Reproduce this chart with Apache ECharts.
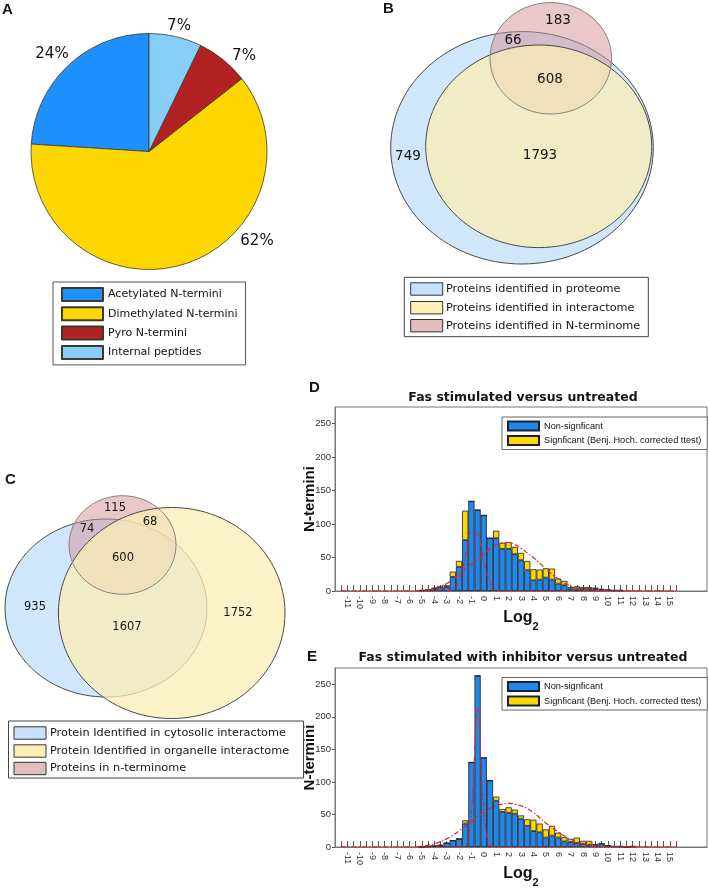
<!DOCTYPE html>
<html><head><meta charset="utf-8">
<script src="https://cdn.jsdelivr.net/npm/echarts@6/dist/echarts.min.js"></script>
<style>html,body{margin:0;padding:0;background:#fff}#c{width:709px;height:889px}</style>
</head><body><div id="c"></div>
<script>
// ---------- Panel A: pie ----------
const pieNames = ['Acetylated N-termini','Dimethylated N-termini','Pyro N-termini','Internal peptides'];
const pieValues = [24.0, 61.6, 7.2, 7.2];
const pieColors = ['#1E90FF','#FFD700','#B22222','#87CEFA'];

// ---------- Panel B: Venn ----------
const vennBNames = ['Proteins identified in proteome','Proteins identified in interactome','Proteins identified in N-terminome'];
// regions: proteome only, proteome∩interactome, all three, proteome∩N-term, N-term only
const vennBCounts = [749, 1793, 608, 66, 183];

// ---------- Panel C: Venn ----------
const vennCNames = ['Protein Identified in cytosolic interactome','Protein Identified in organelle interactome','Proteins in n-terminome'];
// regions: cyto only, cyto∩organelle, organelle only, all three, cyto∩nterm, organelle∩nterm, nterm only
const vennCCounts = [935, 1607, 1752, 600, 74, 68, 115];

// ---------- Panels D/E: histograms ----------
const binCats = [-12,-11.5,-11,-10.5,-10,-9.5,-9,-8.5,-8,-7.5,-7,-6.5,-6,-5.5,-5,-4.5,-4,-3.5,-3,-2.5,-2,-1.5,-1,-0.5,0,0.5,1,1.5,2,2.5,3,3.5,4,4.5,5,5.5,6,6.5,7,7.5,8,8.5,9,9.5,10,10.5,11,11.5,12,12.5,13,13.5,14,14.5,15,15.5,16,16.5,17,17.5,18];
const xTickLabels = [-11,-10,-9,-8,-7,-6,-5,-4,-3,-2,-1,0,1,2,3,4,5,6,7,8,9,10,11,12,13,14,15];
const yTicks = [0,50,100,150,200,250];
const histNames = ['Non-signficant','Signficant (Benj. Hoch. corrected ttest)'];

const dBins   = [-5,-4.5,-4,-3.5,-3,-2.5,-2,-1.5,-1,-0.5,0,0.5,1,1.5,2,2.5,3,3.5,4,4.5,5,5.5,6,6.5,7,7.5,8,8.5,9,9.5,10,10.5,11];
const dNonSig = [1,1.5,3,5,6,21,36,76,134,121,113,79,79,63,63,55,46,31,16,17,20,17,11,8.5,3.5,2.5,3,3,3,2,1.5,1,1];
const dSig    = [0,0.5,2,2.5,2.5,8,9,44,0,0,0,0,11,9,10,11,11,14,16.5,15,14,16.5,7.5,6.5,2.5,4.5,3,3,2,1,0.5,0,0];
const dFitNarrowX = [-11.5,-3,-2.5,-2,-1.5,-1,-0.5,0,0.5,1,1.5,15.5];
const dFitNarrowY = [0,0,3,14,50,88,86,45,13,2,0,0];
const dFitBroadX = [-11.5,-5.5,-5,-4.5,-4,-3.5,-3,-2.5,-2,-1.5,-1,-0.5,0,0.5,1,1.5,2,2.5,3,3.5,4,4.5,5,5.5,6,6.5,7,7.5,8,8.5,9,15.5];
const dFitBroadY = [0,0,1,1.5,4,7,11,17,24,33,40,48,55,63,69,72.5,72.5,69.5,64,57,50,42,33,25,18,12,7.5,5,2.5,1,0.5,0];

const eBins   = [-5,-4.5,-4,-3.5,-3,-2.5,-2,-1.5,-1,-0.5,0,0.5,1,1.5,2,2.5,3,3.5,4,4.5,5,5.5,6,6.5,7,7.5,8,8.5,9,9.5,10,10.5,11,11.5,12];
const eNonSig = [0.5,1,1.5,2.5,6,10,12.5,36,130,263,137,102,71,54,52.5,51,43.5,32.5,24.5,22.5,14.5,17.5,14.5,8.5,7.5,6,4.5,3.5,2.5,5,2,1,1,0,1];
const eSig    = [0,0,0.5,0.5,0,0,0,5,0,0,0,0,6.5,4.5,8.5,6.5,5,10,17.5,13.5,12.5,15,7.5,6.5,5,8.5,5,6,2,0,0.5,0,0,0,0];
const eFitNarrowX = [-11.5,-2,-1.5,-1,-0.5,0,0.5,1,15.5];
const eFitNarrowY = [0,0,1,55,213,55,3,0,0];
const eFitBroadX = [-11.5,-5.5,-5,-4.5,-4,-3.5,-3,-2.5,-2,-1.5,-1,-0.5,0,0.5,1,1.5,2,2.5,3,3.5,4,4.5,5,5.5,6,6.5,7,7.5,8,8.5,9,9.5,15.5];
const eFitBroadY = [0,0,1.5,3,5,8,12.5,18,24.5,31.5,39,46.5,53,59,63.5,66,67,66,63.5,59,53,45,37,30,23,17,12,8,5,3,1.5,0.5,0];

// ---------- rendering ----------
const SANS = '"DejaVu Sans",sans-serif';
const ARIAL = '"Liberation Sans",Arial,sans-serif';
const BLUE = '#2288E8', GOLD = '#FFD700', EDGE = '#1b2033', RED = '#E0262E';

const chart = echarts.init(document.getElementById('c'), null, {renderer:'canvas', width:709, height:889});
const idx = v => binCats.indexOf(v);
const pairs = (xs, ys) => xs.map((x,i)=>[idx(x), ys[i]]);

function xAx(gi){
  return {
    type:'category', gridIndex:gi, data: binCats.map(String), boundaryGap:false,
    axisLine:{show:true, lineStyle:{color:'#777', width:1}},
    axisTick:{show:true, inside:true, length:6, interval:(i,v)=> (+v>=-11.5 && +v<=15.5), lineStyle:{color:'#555', width:1}},
    axisLabel:{interval:(i,v)=> xTickLabels.indexOf(+v)>=0, rotate:-90, fontFamily:ARIAL, fontSize:9, color:'#333', margin:5},
    splitLine:{show:false},
    name:'{a|Log}{b|2}', nameLocation:'middle', nameGap:19, nameMoveOverlap:false,
    nameTextStyle:{rich:{
      a:{fontFamily:ARIAL, fontWeight:'bold', fontSize:16, color:'#111', lineHeight:22, verticalAlign:'top'},
      b:{fontFamily:ARIAL, fontWeight:'bold', fontSize:11, color:'#111', lineHeight:22, verticalAlign:'bottom'}
    }}
  };
}
function yAx(gi){
  return {
    type:'value', gridIndex:gi, min:0, max:275, interval:50,
    axisLine:{show:true, lineStyle:{color:'#777'}},
    axisTick:{show:true, length:3, lineStyle:{color:'#555'}},
    axisLabel:{fontFamily:ARIAL, fontSize:9.5, color:'#333', margin:4, showMaxLabel:false,
      formatter:v=> yTicks.indexOf(v)>=0 ? String(v) : ''},
    splitLine:{show:false},
    name:'N-termini', nameLocation:'middle', nameGap:18, nameRotate:90, nameMoveOverlap:false,
    nameTextStyle:{fontFamily:ARIAL, fontWeight:'bold', fontSize:15, color:'#111'}
  };
}
function bars(gi, bins, vals, name, color){
  return {type:'bar', name:name, xAxisIndex:gi, yAxisIndex:gi, stack:'s'+gi, data:pairs(bins, vals),
    barCategoryGap:'0%', itemStyle:{color:color, borderColor:EDGE, borderWidth:0.8}, silent:true};
}
function fit(gi, xs, ys){
  return {type:'line', name:'fit', xAxisIndex:gi, yAxisIndex:gi, data:pairs(xs, ys), smooth:0.4,
    symbol:'none', z:5, silent:true, lineStyle:{color:RED, width:1.2, type:[5,2,1.5,2]}};
}
function histLegend(top){
  return {data:histNames, orient:'vertical', left:502, top:top, itemWidth:31, itemHeight:9, itemGap:3.5,
    padding:[3.5,6,3.5,5], borderColor:'#666', borderWidth:1, backgroundColor:'#fff', icon:'rect',
    selectedMode:false, textStyle:{fontFamily:ARIAL, fontSize:9.2, color:'#111'}};
}

// Venn layout (geometry only)
const vBlue = 'rgba(150,200,245,0.45)', vPink = 'rgba(211,145,153,0.5)', vYellow = 'rgba(250,238,180,0.75)';
const vLine = '#4a4a4a', vPinkLine = '#8d8080';
function ell(cx,cy,rx,ry,fill,stroke,z){
  return {type:'ellipse', shape:{cx:cx,cy:cy,rx:rx,ry:ry}, style:{fill:fill, stroke:stroke||null, lineWidth:1}, z:z, silent:true};
}
function txt(x,y,t,font,align){
  return {type:'text', x:x, y:y, style:{text:String(t), font:font, fill:'#151515', align:align||'center', verticalAlign:'middle'}, z:20, silent:true};
}
function vennLegend(x,y,w,h,rows,names,colors,sx,tx,font){
  const els = [{type:'rect', shape:{x:x,y:y,width:w,height:h}, style:{fill:null, stroke:'#444', lineWidth:1}, z:15, silent:true}];
  names.forEach((n,i)=>{
    els.push({type:'rect', shape:{x:sx, y:rows[i]-6.2, width:32, height:12.4}, style:{fill:colors[i], stroke:'#333', lineWidth:1}, z:16, silent:true});
    els.push(txt(tx, rows[i], n, font, 'left'));
  });
  return els;
}
const G = [];
// B
G.push(ell(522,147.8,131.3,116.2,vBlue,vLine,10));
G.push(ell(550.8,58.3,60.8,55.7,vPink,null,11));
G.push(ell(538.7,146.3,113,101.3,vYellow,vLine,12));
G.push(ell(550.8,58.3,60.8,55.7,null,vPinkLine,13));
const bPos = [[408,156],[540,155],[550,79],[513,40],[558,20]];
vennBCounts.forEach((c,i)=>G.push(txt(bPos[i][0],bPos[i][1],c,'13.5px "DejaVu Sans"')));
// C
G.push(ell(106,608,101,89,vBlue,vLine,10));
G.push(ell(122.5,545,53.5,49.3,vPink,null,11));
G.push(ell(171.7,613,113.3,105.5,vYellow,vLine,12));
G.push(ell(122.5,545,53.5,49.3,null,vPinkLine,13));
const cPos = [[35,607],[127,627],[238,613],[123,558],[87,529],[150,522],[115,508]];
vennCCounts.forEach((c,i)=>G.push(txt(cPos[i][0],cPos[i][1],c,'11.5px "DejaVu Sans"')));
// Venn legends
const vLegColors = ['#c6e1fa','#fdf0b4','#e3bcc0'];
vennLegend(404.3,277.3,244,59.4,[289,307.7,325.7],vennBNames,vLegColors,410.7,446,'11.3px "DejaVu Sans"').forEach(e=>G.push(e));
vennLegend(8.5,721,295,57,[733,751,768.5],vennCNames,vLegColors,14,50,'11.3px "DejaVu Sans"').forEach(e=>G.push(e));
// panel letters & titles
[['A',2,10],['B',383,9],['C',5,480],['D',309,388],['E',307,657]].forEach(p=>G.push(txt(p[1],p[2],p[0],'bold 15px "Liberation Sans"','left')));
G.push(txt(523,398,'Fas stimulated versus untreated','bold 12.5px "DejaVu Sans"'));
G.push(txt(523,658,'Fas stimulated with inhibitor versus untreated','bold 12.5px "DejaVu Sans"'));

const pieLabelXY = [[52,54],[257,241],[244,56],[179,26]];

chart.setOption({
  animation:false,
  backgroundColor:'#fff',
  grid:[
    {left:335, top:407, right:2, height:184, show:true, borderColor:'#777', borderWidth:1},
    {left:335, top:668, right:2, height:184, show:true, borderColor:'#777', borderWidth:1}
  ],
  xAxis:[xAx(0), xAx(1)],
  yAxis:[yAx(0), yAx(1)],
  legend:[
    {data:pieNames, orient:'vertical', left:53, top:282, itemWidth:41, itemHeight:13, itemGap:4.3,
     padding:[5,8,5,8], borderColor:'#555', borderWidth:1, icon:'rect', selectedMode:false,
     textStyle:{fontFamily:SANS, fontSize:11, color:'#111'}},
    histLegend(417), histLegend(677.5)
  ],
  series:[
    {type:'pie', center:[149,151.5], radius:118, startAngle:90, clockwise:false, avoidLabelOverlap:false,
     silent:true,
     data:pieNames.map((n,i)=>({name:n, value:pieValues[i], itemStyle:{color:pieColors[i]}})),
     itemStyle:{borderColor:'#3a3a2a', borderWidth:0.8},
     label:{show:true, position:'outside', formatter:p=>Math.round(p.percent)+'%', fontFamily:SANS, fontSize:15, color:'#111'},
     labelLine:{show:false},
     labelLayout:p=>({x:pieLabelXY[p.dataIndex][0], y:pieLabelXY[p.dataIndex][1], align:'center', verticalAlign:'middle'})
    },
    bars(0, dBins, dNonSig, histNames[0], BLUE),
    bars(0, dBins, dSig, histNames[1], GOLD),
    fit(0, dFitNarrowX, dFitNarrowY), fit(0, dFitBroadX, dFitBroadY),
    bars(1, eBins, eNonSig, histNames[0], BLUE),
    bars(1, eBins, eSig, histNames[1], GOLD),
    fit(1, eFitNarrowX, eFitNarrowY), fit(1, eFitBroadX, eFitBroadY)
  ],
  graphic:G
});
</script></body></html>
